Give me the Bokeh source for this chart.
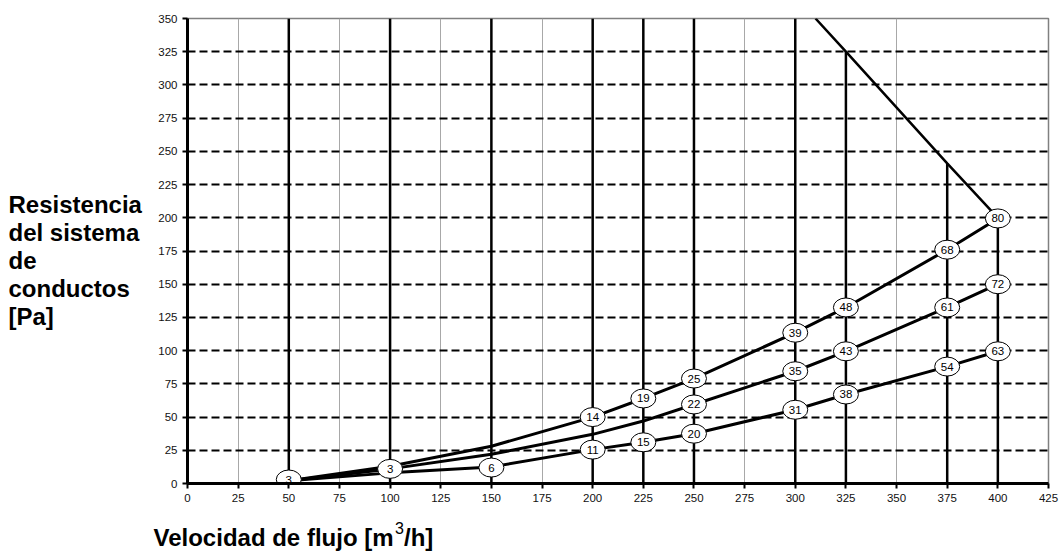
from bokeh.plotting import figure
from bokeh.models import Range1d, FixedTicker
from bokeh.layouts import row, column
from bokeh.embed import file_html
from bokeh.resources import INLINE
from bokeh.core.properties import value

# ---- data ----
x_ticks = list(range(0, 426, 25))
y_ticks = list(range(0, 351, 25))

flow = [50, 100, 150, 200, 225, 250, 300, 325, 375, 400]
curve_high = [2, 13, 28, 50, 64, 79, 113.5, 132.5, 176, 199.5]
curve_mid = [2, 11, 22, 37, 47, 59.5, 84.5, 99.5, 132.5, 150]
curve_low = [2, 8, 12.5, 25.5, 31, 37.5, 55.5, 67, 88, 99.5]

fan_x = [310, 325, 375, 400]
fan_y = [350, 325, 241, 200]

thick_x = [50, 100, 150, 200, 225, 250, 300, 325, 375, 400]
thick_top = [350, 350, 350, 350, 350, 350, 350, 325, 241, 200]
thin_x = [25, 75, 125, 175, 275, 350]
dash_y = [25, 50, 75, 100, 125, 150, 175, 200, 225, 250, 275, 300, 325]

mark_x = [50, 100,
          200, 225, 250, 300, 325, 375, 400,
          250, 300, 325, 375, 400,
          150, 200, 225, 250, 300, 325, 375, 400]
mark_y = [3, 11,
          50, 64, 79, 113.5, 132.5, 176, 199.5,
          59.5, 84.5, 99.5, 132.5, 150,
          12, 25.5, 31, 37.5, 55.5, 67, 88, 99.5]
mark_text = ["3", "3",
             "14", "19", "25", "39", "48", "68", "80",
             "22", "35", "43", "61", "72",
             "6", "11", "15", "20", "31", "38", "54", "63"]

y_title = ["Resistencia", "del sistema", "de", "conductos", "[Pa]"]
x_title = ["Velocidad de flujo [m", "3", "/h]"]

FONT = "Liberation Sans"

# ---- main chart ----
p = figure(width=911, height=516, title=None,
           x_range=Range1d(0, 425), y_range=Range1d(0, 350),
           output_backend="svg", toolbar_location=None,
           min_border_left=37, min_border_right=13,
           min_border_top=18, min_border_bottom=33)
p.background_fill_color = "white"
p.border_fill_color = "white"
p.outline_line_color = "#808080"
p.outline_line_width = 1.5

for ax, ticks in ((p.xaxis, x_ticks), (p.yaxis, y_ticks)):
    ax.ticker = FixedTicker(ticks=ticks)
    ax.axis_line_width = 3
    ax.axis_line_color = "black"
    ax.major_tick_line_width = 2
    ax.major_tick_line_color = "black"
    ax.major_tick_out = 5
    ax.major_tick_in = 0
    ax.minor_tick_line_color = None
    ax.major_label_text_font = FONT
    ax.major_label_text_font_size = "11.5px"
    ax.major_label_text_color = "#111111"
    ax.major_label_standoff = 5

p.xgrid.ticker = FixedTicker(ticks=thin_x)
p.xgrid.grid_line_color = "#a8a8a8"
p.xgrid.grid_line_width = 1
p.ygrid.ticker = FixedTicker(ticks=dash_y)
p.ygrid.grid_line_color = "black"
p.ygrid.grid_line_width = 2
p.ygrid.grid_line_dash = "8 4"

p.segment(x0=thick_x, y0=[0] * len(thick_x), x1=thick_x, y1=thick_top,
          line_color="black", line_width=2.5)
p.line(fan_x, fan_y, line_color="black", line_width=2.5)

for c in (curve_high, curve_mid, curve_low):
    p.line(flow, c, line_color="black", line_width=3)

p.ellipse(x=mark_x, y=mark_y, width=25, height=19,
          width_units="screen", height_units="screen",
          fill_color="white", line_color="black", line_width=1)
p.text(x=mark_x, y=mark_y, text=mark_text, text_align="center",
       text_baseline="middle", text_font=value(FONT),
       text_font_size="11.5px", text_color="black")


def text_panel(w, h, top, bottom, y_top, y_bottom):
    f = figure(width=w, height=h, title=None,
               x_range=Range1d(0, w), y_range=Range1d(y_bottom, y_top),
               x_axis_type=None, y_axis_type=None,
               output_backend="svg", toolbar_location=None,
               min_border_left=0, min_border_right=0,
               min_border_top=top, min_border_bottom=bottom)
    f.grid.visible = False
    f.outline_line_color = None
    f.background_fill_color = "white"
    f.border_fill_color = "white"
    return f


# ---- y-axis title panel (left); same vertical frame as the chart ----
ty = text_panel(150, 516, 18, 33, 18, 483)
ty.text(x=[8] * len(y_title), y=[204, 232, 260, 288, 316], text=y_title,
        text_font=value(FONT), text_font_size="24px",
        text_font_style="bold", text_baseline="alphabetic",
        text_align="left", text_color="black")

# ---- x-axis title panel (bottom) ----
tx = text_panel(1061, 35, 0, 0, 516, 551)
tx.text(x=[153], y=[537], text=[x_title[0]], text_font=value(FONT),
        text_font_size="24px", text_font_style="bold",
        text_baseline="alphabetic", text_color="black")
tx.text(x=[394.6], y=[527], text=[x_title[1]], text_font=value(FONT),
        text_font_size="16px", text_baseline="alphabetic",
        text_color="black")
tx.text(x=[403.5], y=[537], text=[x_title[2]], text_font=value(FONT),
        text_font_size="24px", text_font_style="bold",
        text_baseline="alphabetic", text_color="black")

layout = column(row(ty, p, spacing=0), tx, spacing=0)

open("out.html", "w").write(file_html(layout, INLINE))
